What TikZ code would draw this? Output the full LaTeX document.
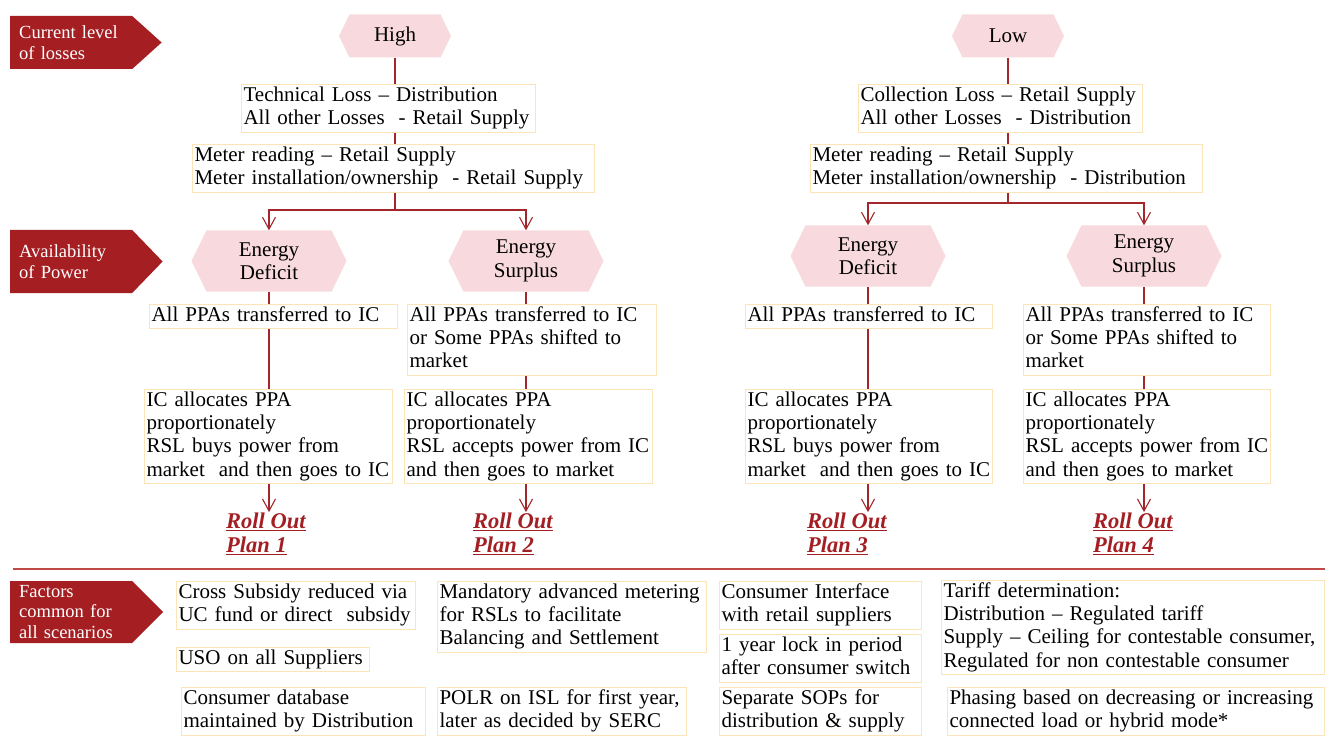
\documentclass[tikz,border=0pt]{standalone}
\usepackage{fontspec}
\setmainfont{Liberation Serif}
\usetikzlibrary{shapes.symbols,arrows.meta}
\definecolor{colorTag}{HTML}{A41E22}
\definecolor{colorHex}{HTML}{F8DADE}
\definecolor{colorBox}{HTML}{FCE4B8}
\definecolor{colorLine}{HTML}{A3262B}
\definecolor{colorPlan}{HTML}{A31F24}
\definecolor{colorSep}{HTML}{BE4B48}
\newcommand{\boxfont}{\fontsize{21}{23.3}\selectfont}
\newcommand{\tagfont}{\fontsize{18.5}{20.5}\selectfont}
\newcommand{\planfont}{\fontsize{22.5}{23.5}\selectfont\bfseries\itshape}

\begin{document}
\begin{tikzpicture}[x=1pt,y=-1pt,
    tag/.style={signal, signal to=east, signal from=nowhere, fill=colorTag, text=white, font=\tagfont, align=left, text width=104pt, inner xsep=9pt, inner ysep=0pt, anchor=west, signal pointer angle=90},
    hexa/.style={signal, signal to=east and west, fill=colorHex, font=\boxfont, align=center, inner sep=0pt, signal pointer angle=128},
    txt/.style={draw=colorBox, line width=1.1pt, font=\boxfont, align=left, inner xsep=2pt, inner ysep=0.5pt, anchor=north west, execute at begin node=\strut, execute at end node=\strut},
    conn/.style={draw=colorLine, line width=1.1pt},
    arr/.style={conn, -{Straight Barb[length=12pt,width=13pt]}},
    plan/.style={font=\planfont, text=colorPlan, align=left, anchor=west, inner sep=1pt},
    sep/.style={draw=colorSep, line width=1.5pt}]
    \useasboundingbox (0,0) rectangle (1325,738);

    % current level of losses
    \node [tag, minimum height=53pt, signal pointer angle=84] (tagLoss) at (10,42.5) {Current level\\of losses};
    \node [hexa, minimum width=112pt, minimum height=43pt] (high) at (395,36) {High};
    \node [hexa, minimum width=112pt, minimum height=43pt] (low) at (1008,36) {Low};
    \node [txt, text width=290pt] (lossL) at (241,84) {Technical Loss – Distribution\\All other Losses \ - Retail Supply};
    \node [txt, text width=398pt] (meterL) at (192,144) {Meter reading – Retail Supply\\Meter installation/ownership \ - Retail Supply};
    \node [txt, text width=280pt] (lossR) at (858,84) {Collection Loss – Retail Supply\\All other Losses \ - Distribution};
    \node [txt, text width=388pt] (meterR) at (810,144) {Meter reading – Retail Supply\\Meter installation/ownership \ - Distribution};
    \coordinate (forkL) at (high |- 0,210);
    \coordinate (forkR) at (low |- 0,203);

    % availability of power
    \node [tag, minimum height=63pt, signal pointer angle=92] (tagPower) at (10,261.5) {Availability\\of Power};
    \node [hexa, minimum width=155pt, minimum height=61pt] (defL) at (269,261) {Energy\\Deficit};
    \node [hexa, minimum width=155pt, minimum height=61pt] (surL) at (526,261) {Energy\\Surplus};
    \node [hexa, minimum width=155pt, minimum height=61pt] (defR) at (868,256) {Energy\\Deficit};
    \node [hexa, minimum width=155pt, minimum height=61pt] (surR) at (1144,256) {Energy\\Surplus};

    \draw [conn] (high.south) -- (high |- lossL.north);
    \draw [conn] (high |- lossL.south) -- (high |- meterL.north);
    \draw [conn] (high |- meterL.south) -- (forkL);
    \draw [arr] (forkL) -| (defL.north);
    \draw [arr] (forkL) -| (surL.north);
    \draw [conn] (low.south) -- (low |- lossR.north);
    \draw [conn] (low |- lossR.south) -- (low |- meterR.north);
    \draw [conn] (low |- meterR.south) -- (forkR);
    \draw [arr] (forkR) -| (defR.north);
    \draw [arr] (forkR) -| (surR.north);

    % power purchase
    \node [txt, text width=244pt] (ppaL1) at (149,304) {All PPAs transferred to IC};
    \node [txt, text width=245pt] (ppaL2) at (407,304) {All PPAs transferred to IC\\or Some PPAs shifted to\\market};
    \node [txt, text width=243pt] (ppaR1) at (745,304) {All PPAs transferred to IC};
    \node [txt, text width=243pt] (ppaR2) at (1023,304) {All PPAs transferred to IC\\or Some PPAs shifted to\\market};
    \node [txt, text width=244pt] (icL1) at (144,389) {IC allocates PPA\\proportionately\\RSL buys power from\\market \ and then goes to IC};
    \node [txt, text width=244pt] (icL2) at (404,389) {IC allocates PPA\\proportionately\\RSL accepts power from IC\\and then goes to market};
    \node [txt, text width=243pt] (icR1) at (745,389) {IC allocates PPA\\proportionately\\RSL buys power from\\market \ and then goes to IC};
    \node [txt, text width=243pt] (icR2) at (1023,389) {IC allocates PPA\\proportionately\\RSL accepts power from IC\\and then goes to market};

    \node [plan] (plan1) at (225,534) {\underline{Roll Out}\\\underline{Plan 1}};
    \node [plan] (plan2) at (472,534) {\underline{Roll Out}\\\underline{Plan 2}};
    \node [plan] (plan3) at (806,534) {\underline{Roll Out}\\\underline{Plan 3}};
    \node [plan] (plan4) at (1092,534) {\underline{Roll Out}\\\underline{Plan 4}};

    \draw [conn] (defL.south) -- (defL |- ppaL1.north);
    \draw [conn] (defL |- ppaL1.south) -- (defL |- icL1.north);
    \draw [arr] (defL |- icL1.south) -- (defL |- plan1.north);
    \draw [conn] (surL.south) -- (surL |- ppaL2.north);
    \draw [conn] (surL |- ppaL2.south) -- (surL |- icL2.north);
    \draw [arr] (surL |- icL2.south) -- (surL |- plan2.north);
    \draw [conn] (defR.south) -- (defR |- ppaR1.north);
    \draw [conn] (defR |- ppaR1.south) -- (defR |- icR1.north);
    \draw [arr] (defR |- icR1.south) -- (defR |- plan3.north);
    \draw [conn] (surR.south) -- (surR |- ppaR2.north);
    \draw [conn] (surR |- ppaR2.south) -- (surR |- icR2.north);
    \draw [arr] (surR |- icR2.south) -- (surR |- plan4.north);

    % common factors
    \coordinate (sepA) at (13,569);
    \coordinate (sepB) at (1325,569);
    \draw [sep] (sepA) -- (sepB);
    \node [tag, minimum height=62pt] (tagCommon) at (10,612) {Factors\\common for\\all scenarios};
    \node [txt, text width=235pt] (subsidy) at (176,581) {Cross Subsidy reduced via\\UC fund or direct \ subsidy};
    \node [txt, text width=189pt] (uso) at (176,647) {USO on all Suppliers};
    \node [txt, text width=240pt] (database) at (181,687) {Consumer database\\maintained by Distribution};
    \node [txt, text width=265pt] (metering) at (437,581) {Mandatory advanced metering\\for RSLs to facilitate\\Balancing and Settlement};
    \node [txt, text width=245pt] (polr) at (437,687) {POLR on ISL for first year,\\later as decided by SERC};
    \node [txt, text width=198pt] (interface) at (719,581) {Consumer Interface\\with retail suppliers};
    \node [txt, text width=198pt] (lockin) at (719,634) {1 year lock in period\\after consumer switch};
    \node [txt, text width=198pt] (sops) at (719,687) {Separate SOPs for\\distribution \& supply};
    \node [txt, text width=379pt] (tariff) at (941,580) {Tariff determination:\\Distribution – Regulated tariff\\Supply – Ceiling for contestable consumer,\\Regulated for non contestable consumer};
    \node [txt, text width=373pt] (phasing) at (947,687) {Phasing based on decreasing or increasing\\connected load or hybrid mode*};
\end{tikzpicture}
\end{document}
